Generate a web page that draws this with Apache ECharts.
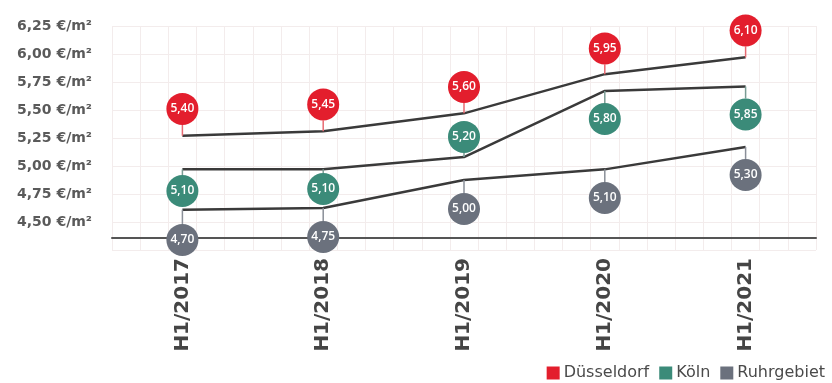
<!DOCTYPE html>
<html>
<head>
<meta charset="utf-8">
<script src="https://cdn.jsdelivr.net/npm/echarts@6/dist/echarts.min.js"></script>
<style>
  html, body { margin: 0; padding: 0; background: #ffffff; }
  #main { width: 832px; height: 383px; }
</style>
</head>
<body>
<div id="main"></div>
<script>
// categories (half years)
const categories = ['H1/2017', 'H1/2018', 'H1/2019', 'H1/2020', 'H1/2021']
const yTicks = [4.25, 4.5, 4.75, 5, 5.25, 5.5, 5.75, 6, 6.25]

// printed values (€/m²)
const duesseldorfValues = [5.40, 5.45, 5.60, 5.95, 6.10]
const koelnValues = [5.10, 5.10, 5.20, 5.80, 5.85]
const ruhrValues = [4.70, 4.75, 5.00, 5.10, 5.30]

// where the lines are drawn on the value scale
const duesseldorfLine = [5.27, 5.31, 5.47, 5.82, 5.97]
const koelnLine = [4.97, 4.97, 5.08, 5.67, 5.71]
const ruhrLine = [4.61, 4.625, 4.875, 4.97, 5.17]

// where the value bubbles sit on the value scale
const duesseldorfBubble = [5.51, 5.55, 5.705, 6.05, 6.21]
const koelnBubble = [4.777, 4.795, 5.26, 5.42, 5.46]
const ruhrBubble = [4.34, 4.366, 4.616, 4.714, 4.92]

const RED = '#e31e2d'
const TEAL = '#3b8b79'
const GREY = '#6b717d'

const chart = echarts.init(document.getElementById('main'), null, { renderer: 'canvas' })

function fmt(v) {
  return v.toFixed(2).replace('.', ',')
}

function bubbleData(line, bubble, values) {
  return categories.map((c, i) => [i, line[i], bubble[i], values[i]])
}

function bubbleRender(color, stemColor) {
  return function (params, api) {
    const x = api.value(0)
    const p1 = api.coord([x, api.value(1)])
    const p2 = api.coord([x, api.value(2)])
    const r = 16
    const up = p2[1] < p1[1]
    return {
      type: 'group',
      children: [
        {
          type: 'line',
          shape: { x1: p1[0], y1: p1[1], x2: p2[0], y2: p2[1] + (up ? r : -r) },
          style: { stroke: stemColor, lineWidth: 1.5 }
        },
        {
          type: 'circle',
          shape: { cx: p2[0], cy: p2[1], r: r },
          style: { fill: color }
        },
        {
          type: 'text',
          x: p2[0],
          y: p2[1],
          style: {
            text: fmt(api.value(3)),
            fill: '#ffffff',
            align: 'center',
            verticalAlign: 'middle',
            font: '600 12px "Open Sans"'
          }
        }
      ]
    }
  }
}

function lineSeries(name, data) {
  return {
    name: name,
    type: 'line',
    data: data,
    symbol: 'none',
    silent: true,
    z: 3,
    lineStyle: { color: '#3a3a3a', width: 2.5 }
  }
}

function bubbleSeries(name, color, stemColor, line, bubble, values) {
  return {
    name: name,
    type: 'custom',
    itemStyle: { color: color },
    encode: { x: 0, y: [1, 2] },
    z: 4,
    renderItem: bubbleRender(color, stemColor),
    data: bubbleData(line, bubble, values)
  }
}

const option = {
  backgroundColor: '#ffffff',
  animation: false,
  textStyle: { fontFamily: 'DejaVu Sans' },
  grid: [{
    left: 112,
    right: 16,
    top: 26,
    bottom: 133
  }],
  legend: {
    data: ['Düsseldorf', 'Köln', 'Ruhrgebiet'],
    right: 2,
    bottom: -3,
    icon: 'rect',
    itemWidth: 13,
    itemHeight: 13,
    itemGap: 10,
    textStyle: { color: '#4a4a4a', fontSize: 16, fontFamily: 'DejaVu Sans', padding: [0, 0, 0, -1] }
  },
  xAxis: [{
    type: 'category',
    data: categories,
    offset: -12,
    z: 3,
    axisLine: { lineStyle: { color: '#555555', width: 2 } },
    axisTick: { show: false },
    axisLabel: {
      rotate: 90,
      margin: 20,
      color: '#454545',
      fontSize: 20,
      fontWeight: 'bold',
      fontFamily: 'DejaVu Sans'
    },
    splitLine: { show: false }
  }, {
    type: 'value',
    min: 0,
    max: 25,
    interval: 1,
    show: true,
    axisLine: { show: false },
    axisTick: { show: false },
    axisLabel: { show: false },
    splitLine: { show: true, lineStyle: { color: '#f3ecec', width: 1 } }
  }],
  yAxis: {
    type: 'value',
    min: yTicks[0],
    max: yTicks[yTicks.length - 1],
    interval: 0.25,
    axisLine: { show: false },
    axisTick: { show: false },
    axisLabel: {
      margin: 20,
      color: '#5a5a5a',
      fontSize: 14,
      fontWeight: 'bold',
      fontFamily: 'DejaVu Sans',
      formatter(v) {
        if (v < 4.5) return ''
        return fmt(v) + ' €/m²'
      }
    },
    splitLine: { show: true, lineStyle: { color: '#f3ecec', width: 1 } }
  },
  series: [
    lineSeries('Düsseldorf Linie', duesseldorfLine),
    lineSeries('Köln Linie', koelnLine),
    lineSeries('Ruhrgebiet Linie', ruhrLine),
    bubbleSeries('Düsseldorf', RED, '#e86a72', duesseldorfLine, duesseldorfBubble, duesseldorfValues),
    bubbleSeries('Köln', TEAL, '#7a9c94', koelnLine, koelnBubble, koelnValues),
    bubbleSeries('Ruhrgebiet', GREY, '#8a8f98', ruhrLine, ruhrBubble, ruhrValues)
  ]
}

chart.setOption(option)
</script>
</body>
</html>
